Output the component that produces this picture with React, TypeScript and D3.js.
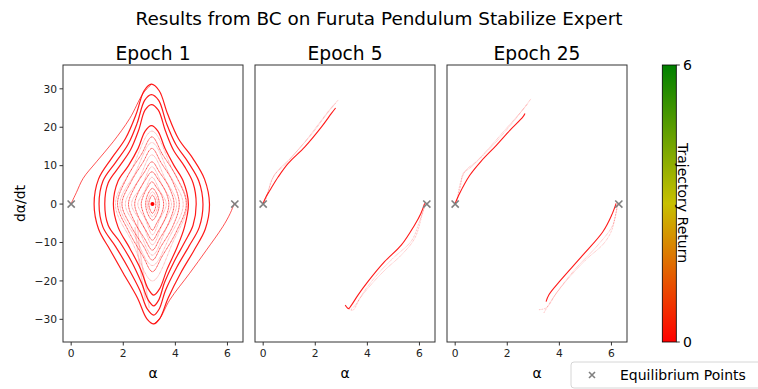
import React from "react";
import * as d3 from "d3";

type Pt = [number, number];

const chartTitle = "Results from BC on Furuta Pendulum Stabilize Expert";
const epochTitles = ["Epoch 1", "Epoch 5", "Epoch 25"];
const xTicks = [0, 2, 4, 6];
const yTicks = [-30, -20, -10, 0, 10, 20, 30];
const equilibrium: Pt[] = [[0, 0], [6.283, 0]];
const returnTicks = [0, 6];
const returnColors = ["#ff0000", "#c8c000", "#008000"];

// Epoch 1: swings around the hanging position (alpha ~ pi)
const e1Bold: Pt[][] = [
  [[3.08, 31.2], [3.38, 29.5], [3.7, 23.5], [4.12, 17], [4.67, 11.9], [5.12, 6.5], [5.31, 0], [5.15, -6.5], [4.72, -12], [4.2, -18], [3.72, -24.5], [3.4, -29.8], [3.17, -31.2], [2.9, -29.8], [2.55, -24.5], [2.0, -18], [1.5, -12], [1.05, -6.5], [0.88, 0], [1.05, 6.5], [1.55, 11.9], [2.08, 17], [2.5, 23.5], [2.8, 29.5]],
  [[3.08, 28.5], [3.36, 27], [3.66, 21], [4.02, 15.5], [4.5, 10.8], [4.9, 6], [5.06, 0], [4.92, -6], [4.52, -11], [4.05, -16.5], [3.62, -22.5], [3.38, -27.3], [3.17, -28.9], [2.92, -27.3], [2.64, -22.5], [2.18, -16.5], [1.7, -11], [1.22, -6], [1.07, 0], [1.22, 6], [1.7, 10.8], [2.18, 15.5], [2.53, 21], [2.82, 27]],
  [[3.08, 25.9], [3.34, 24.5], [3.62, 19], [3.93, 14], [4.35, 9.8], [4.68, 5.5], [4.8, 0], [4.68, -5.5], [4.35, -10], [3.95, -15], [3.58, -20.5], [3.36, -25], [3.17, -26.5], [2.96, -25], [2.7, -20.5], [2.32, -15], [1.88, -10], [1.42, -5.5], [1.29, 0], [1.42, 5.5], [1.85, 9.8], [2.27, 14], [2.58, 19], [2.84, 24.5]],
  [[3.08, 20.4], [3.33, 19], [3.6, 14.5], [3.95, 10], [4.3, 6], [4.5, 0], [4.35, -6], [4.05, -11.5], [3.68, -17], [3.4, -22], [3.17, -23.7], [2.95, -22], [2.67, -17], [2.25, -11.5], [1.8, -6], [1.62, 0], [1.8, 6], [2.2, 10], [2.57, 14.5], [2.84, 19]],
];

const e1Inner: Pt[][] = [
  [[3.1, 17.5], [3.5, 13], [4.05, 7], [4.42, 0], [4.05, -7], [3.5, -13.5], [3.12, -17.6], [2.75, -13.5], [2.2, -7], [1.78, 0], [2.15, 7], [2.7, 13]],
  [[3.1, 14.5], [3.45, 10.8], [3.9, 5.8], [4.15, 0], [3.9, -5.8], [3.45, -11], [3.12, -14.6], [2.78, -11], [2.3, -5.8], [1.95, 0], [2.3, 5.8], [2.75, 10.8]],
  [[3.1, 11], [3.4, 8.2], [3.75, 4.5], [3.95, 0], [3.75, -4.8], [3.4, -9], [3.12, -12], [2.82, -9], [2.45, -4.8], [2.2, 0], [2.45, 4.5], [2.8, 8.2]],
  [[3.1, 8.4], [3.35, 6.3], [3.62, 3.4], [3.75, 0], [3.62, -3.6], [3.35, -7], [3.12, -9.4], [2.88, -7], [2.6, -3.6], [2.44, 0], [2.6, 3.4], [2.85, 6.3]],
  [[3.1, 5.8], [3.28, 4.3], [3.47, 2.3], [3.55, 0], [3.47, -2.5], [3.28, -5], [3.12, -6.8], [2.95, -5], [2.78, -2.5], [2.69, 0], [2.78, 2.3], [2.93, 4.3]],
  [[3.12, 4.1], [3.3, 2.5], [3.38, 0], [3.3, -2.5], [3.12, -4.2], [2.94, -2.5], [2.86, 0], [2.94, 2.5]],
  [[3.12, 2.3], [3.22, 1.3], [3.25, 0], [3.22, -1.3], [3.12, -2.4], [3.02, -1.3], [2.98, 0], [3.02, 1.3]],
];

const e1Faint: Pt[][] = [
  [[3.1, 19], [3.85, 9.5], [4.45, 0], [3.9, -10], [3.12, -20], [2.35, -10], [1.7, 0], [2.35, 9.5]],
  [[3.1, 16], [3.75, 8], [4.3, 0], [3.78, -8.5], [3.12, -16], [2.45, -8.5], [1.87, 0], [2.45, 8]],
  [[3.1, 12.8], [3.62, 6.4], [4.05, 0], [3.62, -6.8], [3.12, -13.3], [2.6, -6.8], [2.08, 0], [2.6, 6.4]],
  [[3.1, 9.7], [3.5, 4.8], [3.85, 0], [3.5, -5.3], [3.12, -10.6], [2.75, -5.3], [2.32, 0], [2.72, 4.8]],
  [[3.1, 7], [3.4, 3.5], [3.65, 0], [3.4, -4], [3.12, -8], [2.85, -4], [2.56, 0], [2.83, 3.5]],
  [[3.12, 3.2], [3.28, 1.6], [3.32, 0], [3.28, -1.6], [3.12, -3.3], [2.97, -1.6], [2.92, 0], [2.97, 1.6]],
];

const e1Open: Pt[][] = [
  [[0.01, 0.3], [0.2, 3], [0.46, 6.7], [0.97, 11], [1.61, 16.2], [2.25, 22.3], [2.76, 28.8], [3.08, 31.2]],
  [[6.27, 0.3], [6.1, -2.5], [5.82, -5.9], [5.19, -12], [4.55, -18], [3.78, -25], [3.4, -29.8], [3.17, -31.2]],
];
const e1Smear: Pt[][] = [
  [[2.55, -4], [2.6, -10], [2.75, -17], [2.9, -23], [3.0, -27]],
  [[2.45, -6], [2.55, -12], [2.7, -19], [2.85, -25]],
];
const e1Centre: Pt = [3.12, 0];

// Epoch 5
const e5Main: Pt[][] = [
  [[0.0, 0.2], [0.1, 1.8], [0.26, 3.6], [0.58, 7.1], [0.96, 10.6], [1.6, 14.9], [2.24, 20.1], [2.62, 23.6], [2.78, 25]],
  [[6.2, 0.2], [6.05, -2.5], [5.81, -5.5], [5.3, -10.7], [4.66, -15], [4.02, -20.2], [3.64, -23.7], [3.39, -26.3], [3.28, -27.2], [3.15, -26.3]],
];
const e5Faint: Pt[][] = [
  [[0.05, 0.5], [0.2, 3.5], [0.32, 6.2], [0.64, 9.3], [1.0, 11.6], [1.6, 16.2], [2.2, 21.5], [2.6, 25], [2.9, 27.2]],
  [[0.1, 1], [0.25, 4.5], [0.45, 7.8], [0.8, 10], [1.3, 13.8], [1.9, 18.5], [2.45, 23.5], [2.8, 26.4]],
  [[6.25, 0.5], [6.1, -2.9], [5.82, -8.9], [5.3, -13.3], [4.7, -17], [4.1, -21.3], [3.7, -24.7], [3.45, -27.6], [3.3, -27.3]],
  [[6.2, -0.5], [6.0, -4.5], [5.7, -9.5], [5.0, -14], [4.4, -18.2], [3.9, -22.5], [3.55, -26.2], [3.35, -27.6]],
];

// Epoch 25
const e25Main: Pt[][] = [
  [[0.0, 0.2], [0.15, 2.5], [0.56, 7.5], [1.0, 11.2], [1.58, 15.3], [2.1, 19.2], [2.6, 22.7], [2.68, 23.6]],
  [[6.18, 0.2], [6.0, -3], [5.67, -7.2], [4.9, -13.3], [4.0, -20.2], [3.6, -23.6], [3.49, -25.4]],
];
const e25Faint: Pt[][] = [
  [[0.05, 0.5], [0.2, 4.5], [0.31, 8], [0.59, 9.5], [1.0, 12.2], [1.6, 16.4], [2.3, 22], [2.92, 27.5]],
  [[0.08, 0.8], [0.18, 5], [0.4, 8.7], [0.8, 11], [1.3, 14.6], [1.9, 19.2], [2.5, 23.8], [2.8, 26.2]],
  [[6.25, 0.3], [6.15, -3], [6.0, -7], [5.7, -10.3], [5.0, -14.6], [4.2, -20.5], [3.7, -25], [3.4, -28.4]],
  [[6.22, -0.5], [6.05, -5.5], [5.5, -10.5], [4.6, -17], [3.9, -23], [3.5, -27], [3.2, -27.5]],
];

const FONT = "DejaVu Sans, sans-serif";
const panelLeft = [63, 255, 447];
const panelTop = 65;
const panelW = 180;
const panelH = 277;

const x = d3.scaleLinear().domain([-0.314, 6.597]).range([0, panelW]);
const y = d3.scaleLinear().domain([-35.9, 36.2]).range([panelH, 0]);
const cbar = d3.scaleLinear().domain([0, 6]).range([342, 65]);

const openLine = d3.line<Pt>().x(d => x(d[0])).y(d => y(d[1])).curve(d3.curveCatmullRom.alpha(0.5));
const closedLine = d3.line<Pt>().x(d => x(d[0])).y(d => y(d[1])).curve(d3.curveCatmullRomClosed.alpha(0.5));

const Marker: React.FC<{ cx: number; cy: number; r: number }> = ({ cx, cy, r }) => (
  <path d={`M${cx - r},${cy - r}L${cx + r},${cy + r}M${cx - r},${cy + r}L${cx + r},${cy - r}`}
    stroke="#808080" strokeWidth={1.6} fill="none" />
);

const Panel: React.FC<{ idx: number }> = ({ idx }) => {
  const red = "#ff0000";
  return (
    <g transform={`translate(${panelLeft[idx]},${panelTop})`}>
      <text x={panelW / 2} y={-5} textAnchor="middle" fontSize={18.7}>{epochTitles[idx]}</text>
      {idx === 0 && (
        <g>
          {e1Faint.map((r, i) => (
            <path key={`f${i}`} d={closedLine(r) || ""} fill="none" stroke={red} strokeWidth={1} strokeOpacity={0.35} strokeDasharray="0.8 0.6" />
          ))}
          {e1Smear.map((r, i) => (
            <path key={`s${i}`} d={openLine(r) || ""} fill="none" stroke={red} strokeWidth={1.4} strokeOpacity={0.18} />
          ))}
          {e1Inner.map((r, i) => (
            <path key={`i${i}`} d={closedLine(r) || ""} fill="none" stroke={red} strokeWidth={0.9} strokeOpacity={0.75} strokeDasharray="1.2 0.4" />
          ))}
          {e1Bold.map((r, i) => (
            <path key={`b${i}`} d={closedLine(r) || ""} fill="none" stroke={red} strokeWidth={1.2} strokeOpacity={0.9} />
          ))}
          {e1Open.map((r, i) => (
            <path key={`o${i}`} d={openLine(r) || ""} fill="none" stroke={red} strokeWidth={0.8} strokeOpacity={0.85} />
          ))}
          <circle cx={x(e1Centre[0])} cy={y(e1Centre[1])} r={2} fill={red} />
        </g>
      )}
      {idx > 0 && (
        <g>
          {(idx === 1 ? e5Faint : e25Faint).map((r, i) => (
            <path key={`f${i}`} d={openLine(r) || ""} fill="none" stroke={red} strokeWidth={1} strokeOpacity={0.3} strokeDasharray="0.8 0.8" />
          ))}
          {(idx === 1 ? e5Main : e25Main).map((r, i) => (
            <path key={`m${i}`} d={openLine(r) || ""} fill="none" stroke={red} strokeWidth={1.1} strokeOpacity={0.9} />
          ))}
        </g>
      )}
      {equilibrium.map((p, i) => (
        <Marker key={i} cx={x(p[0])} cy={y(p[1])} r={3.6} />
      ))}
      <rect x={0} y={0} width={panelW} height={panelH} fill="none" stroke="#333" strokeWidth={1} />
      {xTicks.map(t => (
        <g key={t} transform={`translate(${x(t)},${panelH})`}>
          <line y2={3.5} stroke="#333" />
          <text y={15} textAnchor="middle" fontSize={10.7} fill="#222">{t}</text>
        </g>
      ))}
      <text x={panelW / 2} y={panelH + 36} textAnchor="middle" fontSize={14}>α</text>
      {idx === 0 && yTicks.map(t => (
        <g key={t} transform={`translate(0,${y(t)})`}>
          <line x2={-3.5} stroke="#333" />
          <text x={-6} dy="0.35em" textAnchor="end" fontSize={10.7} fill="#222">{t < 0 ? `\u2212${-t}` : t}</text>
        </g>
      ))}
      {idx === 0 && (
        <text transform={`translate(${-38},${panelH / 2}) rotate(-90)`} textAnchor="middle" fontSize={14}>dα/dt</text>
      )}
    </g>
  );
};

export default function App() {
  return (
    <svg width={758} height={389} style={{ position: "absolute", left: 0, top: 0, background: "#fff" }} fontFamily={FONT}>
      <defs>
        <linearGradient id="retGrad" x1="0" y1="1" x2="0" y2="0">
          {returnColors.map((c, i) => (
            <stop key={i} offset={i / (returnColors.length - 1)} stopColor={c} />
          ))}
        </linearGradient>
      </defs>
      <text x={379} y={25} textAnchor="middle" fontSize={18.4}>{chartTitle}</text>
      {epochTitles.map((_, i) => <Panel key={i} idx={i} />)}

      <rect x={662.3} y={cbar(6)} width={14} height={cbar(0) - cbar(6)} fill="url(#retGrad)" stroke="#000" strokeWidth={0.8} />
      {returnTicks.map(t => (
        <g key={t}>
          <line x1={676.3} x2={679.8} y1={cbar(t)} y2={cbar(t)} stroke="#000" strokeWidth={0.8} />
          <text x={683} y={cbar(t)} dy="0.36em" fontSize={14}>{t}</text>
        </g>
      ))}
      <text transform={`translate(678,203) rotate(90)`} textAnchor="middle" fontSize={14}>Trajectory Return</text>

      <rect x={571} y={362} width={200} height={26} rx={3} fill="#fff" fillOpacity={0.8} stroke="#ccc" strokeWidth={0.8} />
      <Marker cx={592} cy={375} r={3} />
      <text x={620} y={380} fontSize={14}>Equilibrium Points</text>
    </svg>
  );
}
